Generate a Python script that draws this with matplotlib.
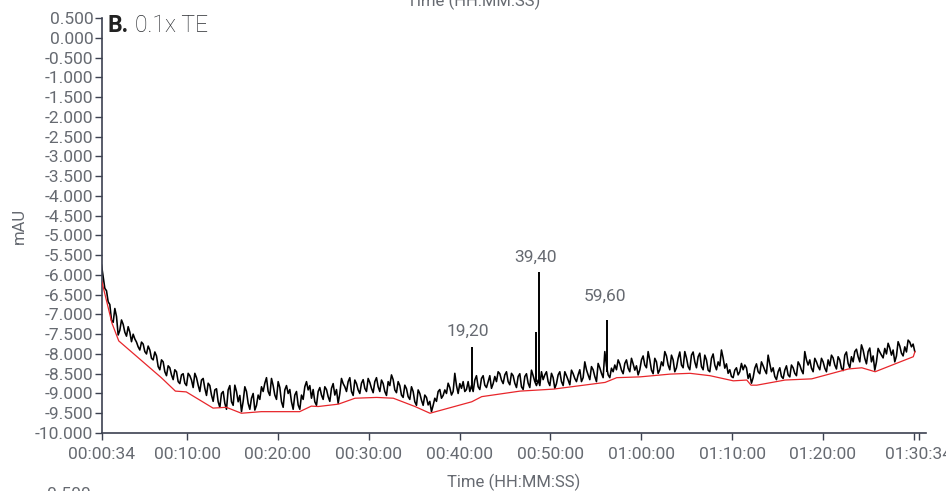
import matplotlib
matplotlib.use('Agg')
import matplotlib.pyplot as plt
import numpy as np
from matplotlib.ticker import FuncFormatter

plt.rcParams['font.family'] = ['Roboto', 'DejaVu Sans']

#======= trace, sampled every ~22 s from 00:00:34
sample_start = 34
sample_step = 22.02
trace = [
 -5.75, -6.34, -6.68, -7.15, -6.85, -7.52, -7.14, -7.45, -7.31, -7.69,
 -7.62, -7.82, -7.70, -7.94, -7.80, -8.11, -7.95, -8.32, -8.15, -8.45,
 -8.30, -8.53, -8.40, -8.70, -8.53, -8.74, -8.49, -8.66, -8.49, -8.79,
 -8.66, -8.87, -8.74, -9.04, -8.91, -9.21, -9.00, -9.25, -8.91, -9.21,
 -8.79, -9.21, -9.46, -8.83, -9.25, -9.12, -9.42, -9.04, -8.83, -8.74,
 -8.95, -8.62, -9.04, -8.70, -9.21, -8.91, -9.00, -9.21, -9.04, -9.29,
 -9.04, -8.83, -8.91, -9.12,
 -9.21, -8.95, -9.04, -8.83, -9.08, -8.87, -9.04, -9.25, -8.62, -8.83,
 -8.70, -8.95, -8.66, -8.91, -8.74, -8.87, -8.62, -8.87, -8.70, -8.83,
 -8.66, -8.95, -8.70, -8.53, -8.91, -8.70, -9.04, -8.79, -9.08, -8.83,
 -9.21, -8.91, -9.17, -9.04, -9.29, -9.46, -9.12, -8.95, -9.12, -8.91,
 -8.74, -9.04, -8.49, -9.00, -8.87, -8.95, -8.70, -8.80, -8.66, -8.83,
 -8.62, -8.79, -8.70, -8.87, -8.57, -8.45, -8.66, -8.53, -8.70, -8.49,
 -8.74, -8.57,
 -8.83, -8.57, -8.74, -8.41, -8.70, -8.66, -8.45, -8.53, -8.70, -8.49,
 -8.87, -8.53, -8.70, -8.45, -8.66, -8.41, -8.62, -8.53, -8.70, -8.20,
 -8.53, -8.32, -8.57, -8.24, -8.49, -7.94, -8.53, -8.36, -8.28, -8.15,
 -8.41, -8.24, -8.36, -8.11, -8.41, -8.53, -8.15, -8.28, -7.94, -8.41,
 -8.11, -8.49, -8.20, -7.94, -8.28, -8.03, -8.45, -8.11, -8.28, -7.94,
 -8.32, -8.03, -8.20, -8.07, -8.32, -8.03, -8.41, -8.11, -8.28, -8.20,
 -7.90,
 -8.36, -8.49, -8.57, -8.41, -8.53, -8.24, -8.28, -8.62, -8.74, -8.36,
 -8.45, -8.20, -8.41, -8.03, -8.45, -8.57, -8.45, -8.57, -8.41, -8.53,
 -8.28, -8.49, -8.20, -8.41, -7.94, -8.28, -8.36, -8.11, -8.32, -8.11,
 -8.36, -8.15, -8.03, -8.28, -8.07, -8.36, -8.03, -8.24, -8.07, -7.94,
 -8.07, -7.77, -8.11, -7.94, -8.20, -8.41, -7.86, -8.03, -7.86, -7.73,
 -8.03, -8.20, -7.69, -7.98, -7.82, -7.65, -7.82, -7.94,
]
# the in-between samples (half a step later), for the fast noise
trace_mid = [
 -6.05, -6.40, -6.75, -7.20, -7.05, -7.40, -7.25, -7.55, -7.45, -7.50,
 -7.70, -7.90, -7.75, -8.00, -7.90, -8.15, -8.05, -8.40, -8.20, -8.55,
 -8.35, -8.65, -8.45, -8.75, -8.50, -8.80, -8.55, -8.85, -8.60, -8.95,
 -8.62, -9.05, -8.80, -9.20, -8.88, -9.35, -8.95, -9.40, -8.80, -9.30,
 -8.95, -9.05, -9.20, -8.95, -9.40, -9.00, -9.30, -9.15, -8.95, -8.60,
 -9.05, -8.80, -9.15, -8.85, -9.35, -8.80, -8.90, -9.40, -8.95, -9.40,
 -9.15, -8.70, -8.80, -8.90,
 -9.30, -8.85, -9.15, -8.90, -9.20, -8.75, -8.90, -9.00, -8.75, -8.95,
 -8.60, -9.05, -8.75, -9.00, -8.65, -8.95, -8.72, -8.98, -8.60, -8.95,
 -8.75, -9.05, -8.80, -8.65, -8.98, -8.80, -9.10, -8.88, -9.15, -8.95,
 -9.30, -9.00, -9.30, -9.10, -9.20, -9.30, -9.20, -8.90, -9.05, -9.00,
 -8.85, -8.95, -8.80, -8.75, -8.70, -8.90, -8.95, -8.95, -8.55, -8.90,
 -8.55, -8.85, -8.55, -8.75, -8.70, -8.50, -8.75, -8.45, -8.78, -8.55,
 -8.85,
 -8.50, -8.90, -8.50, -8.85, -8.55, -8.80, -8.80, -8.65, -8.45, -8.80,
 -8.60, -8.75, -8.45, -8.80, -8.55, -8.78, -8.50, -8.70, -8.40, -8.60,
 -8.40, -8.65, -8.40, -8.70, -8.35, -8.60, -8.30, -8.60, -8.45, -8.40,
 -8.25, -8.50, -8.15, -8.45, -8.25, -8.30, -8.40, -8.05, -8.35, -8.15,
 -8.50, -8.20, -8.40, -8.30, -8.05, -8.40, -8.15, -8.35, -7.95, -8.35,
 -8.10, -8.40, -7.95, -8.35, -7.98, -8.40, -8.15, -8.45, -8.00, -8.40,
 -8.30,
 -8.10, -8.25, -8.40, -8.60, -8.35, -8.45, -8.40, -8.35, -8.50, -8.60,
 -8.25, -8.50, -8.30, -8.50, -8.25, -8.35, -8.65, -8.35, -8.62, -8.30,
 -8.58, -8.35, -8.55, -8.28, -8.50, -8.15, -8.15, -8.45, -8.20, -8.40,
 -8.20, -8.45, -8.30, -8.10, -8.38, -8.15, -8.42, -7.95, -8.35, -8.20,
 -7.88, -8.20, -7.90, -8.25, -7.85, -8.05, -8.20, -7.95, -8.10, -8.00,
 -7.85, -7.90, -8.05, -7.80, -8.05, -7.95, -7.70, -7.75,
]

#======= narrow peaks
spike_t = [2480, 2905, 2927, 3372]
spike_base = [-8.85, -8.70, -8.70, -8.45]
spike_top = [-7.82, -7.45, -5.92, -7.15]

#======= peak labels
label_text = ['19,20', '39,40', '59,60']
label_t = [2455, 2898, 3361]
label_y = [-7.54, -5.68, -6.65]

#======= red baseline
base_t = [34, 103, 148, 429, 522, 594, 771, 859, 958, 1090, 1343, 1420, 1466,
          1599, 1709, 1852, 1962, 2105, 2204, 2480, 2546, 2799, 3019, 3361,
          3438, 3592, 3790, 3922, 4054, 4208, 4297, 4325, 4363, 4550, 4726,
          4968, 5057, 5145, 5397, 5408]
base_v = [-6.13, -7.22, -7.67, -8.60, -8.94, -8.96, -9.37, -9.35, -9.50, -9.46,
          -9.46, -9.32, -9.33, -9.27, -9.12, -9.10, -9.12, -9.33, -9.50, -9.21,
          -9.08, -8.94, -8.89, -8.72, -8.60, -8.58, -8.51, -8.49, -8.55, -8.68,
          -8.66, -8.79, -8.79, -8.66, -8.63, -8.38, -8.35, -8.45, -8.07, -7.94]

xtick_pos = [34, 600, 1200, 1800, 2400, 3000, 3600, 4200, 4800, 5400, 5434]
ytick_pos = np.arange(-10.0, 0.51, 0.5)

grau = '#666a71'
achse = '#3c4150'

def hms(s):
    s = int(round(s))
    return '%02d:%02d:%02d' % (s // 3600, (s % 3600) // 60, s % 60)

fig = plt.figure(figsize=(9.46, 4.91), dpi=100)
ax = fig.add_axes([101.5 / 946, 58 / 491, 824.5 / 946, 415 / 491])

#===== interleave the samples and the in-between samples
n = len(trace)
wert = np.empty(2 * n - 1)
wert[0::2] = trace
wert[1::2] = trace_mid
t = sample_start + sample_step / 2 * np.arange(2 * n - 1)

ax.plot(t, wert, color='black', lw=1.15, zorder=2)
ax.vlines(spike_t, spike_base, spike_top, color='black', lw=1.4, zorder=2)
ax.plot(base_t, base_v, color='#e8262b', lw=0.9, zorder=3)

for s, x, y in zip(label_text, label_t, label_y):
    ax.text(x, y, s, ha='center', va='baseline', fontsize=12.5, color=grau)

ax.set_xlim(34, 5481)
ax.set_ylim(-10, 0.5)

ax.set_xticks(xtick_pos)
ax.set_xticklabels([hms(v) if v != 5400 else '' for v in xtick_pos])
ax.set_yticks(ytick_pos)
ax.yaxis.set_major_formatter(FuncFormatter(lambda v, p: '%.3f' % v))

for sp in ['top', 'right']:
    ax.spines[sp].set_visible(False)
for sp in ['left', 'bottom']:
    ax.spines[sp].set_color(achse)
    ax.spines[sp].set_linewidth(1.2)
ax.tick_params(axis='y', length=5, width=1, color=achse, pad=1,
               labelsize=12.5, labelcolor=grau)
ax.tick_params(axis='x', length=5, width=1, color=achse, pad=5,
               labelsize=12.5, labelcolor=grau)

ax.set_ylabel('mAU', fontsize=12, color=grau, labelpad=6)
ax.set_xlabel('Time (HH:MM:SS)', fontsize=12, color=grau, labelpad=8.5)

# title inside
fig.text(107 / 946, 1 - 32 / 491, 'B.', fontsize=16.5, fontweight='bold',
         color='#222222', va='baseline', ha='left')
fig.text(135 / 946, 1 - 32 / 491, '0.1x TE', fontsize=16.5, fontweight='light',
         color='#2a2d31', va='baseline', ha='left')

# fragments of the neighbouring charts
fig.text(474 / 946, 1 - 6 / 491, 'Time (HH:MM:SS)', ha='center', va='baseline',
         fontsize=12, color=grau)
fig.text(91 / 946, 1 - 487 / 491, '0.500', ha='right', va='top',
         fontsize=12.5, color=grau)

fig.savefig('out.png', dpi=100)
